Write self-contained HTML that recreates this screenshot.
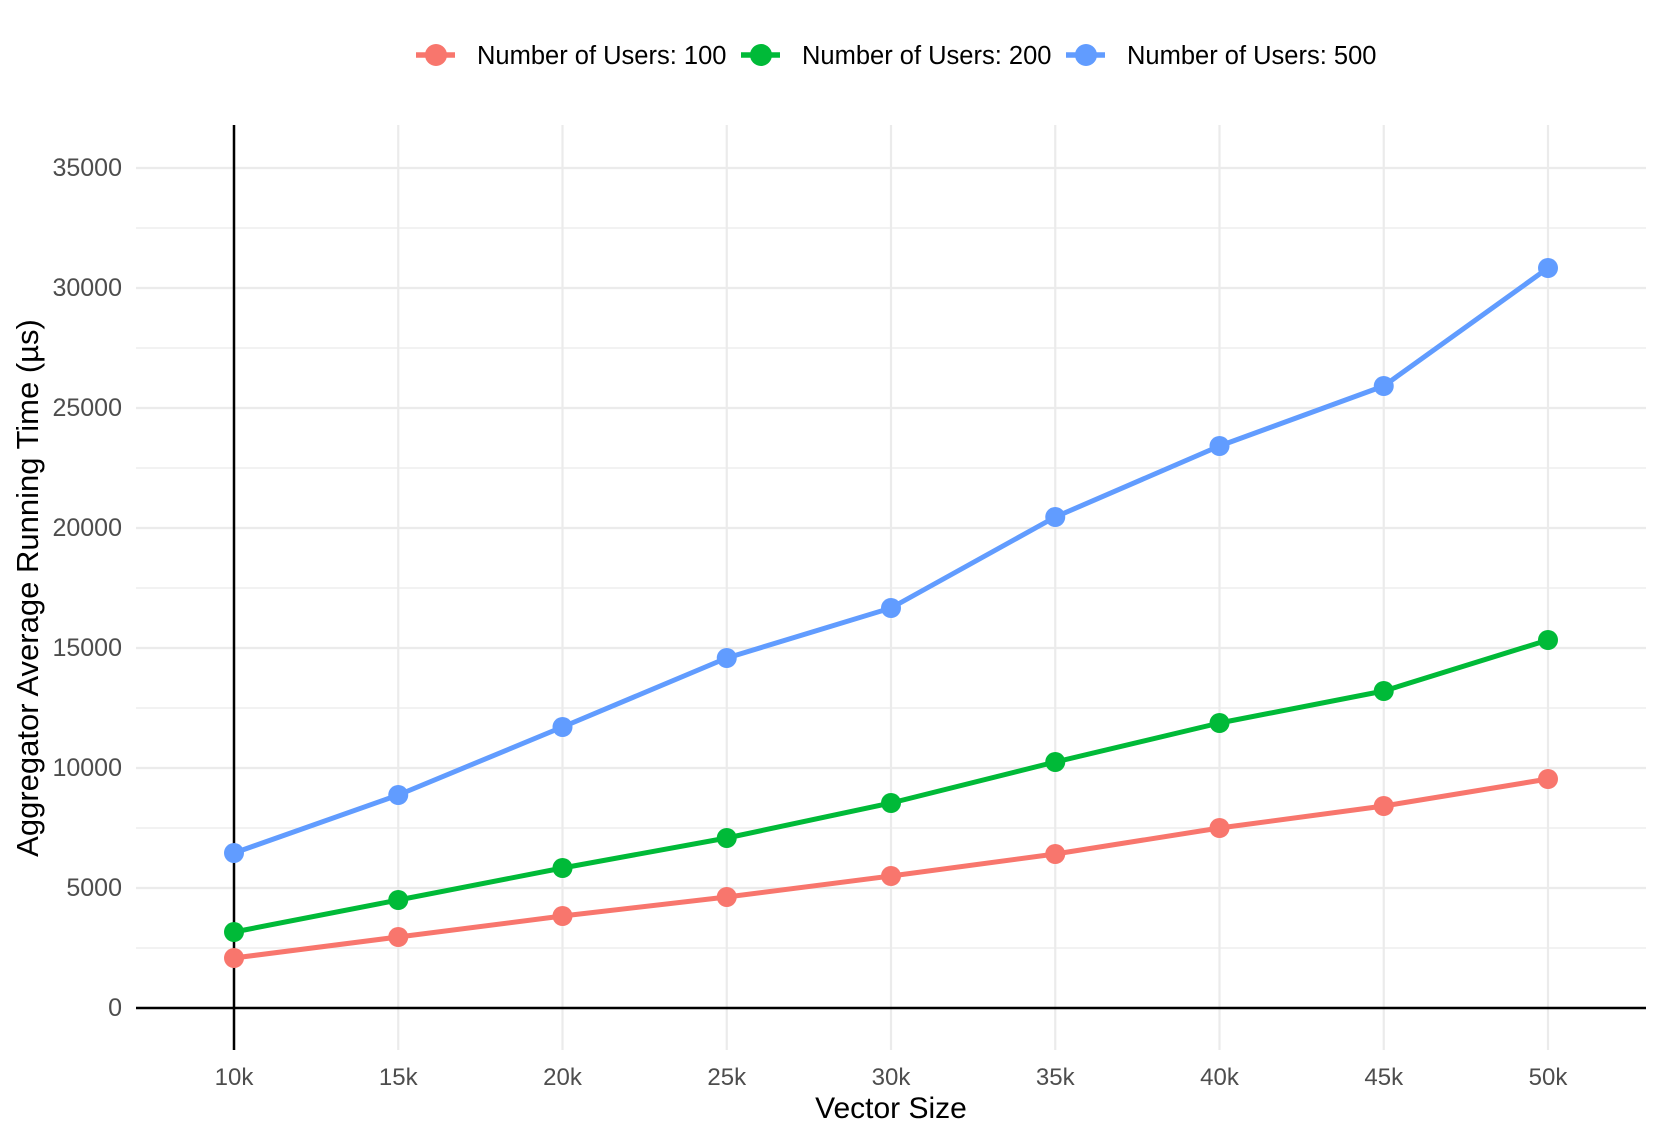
<!DOCTYPE html>
<html><head><meta charset="utf-8"><style>body{margin:0;background:#fff}svg{display:block}</style></head>
<body>
<svg width="1661" height="1140" xmlns="http://www.w3.org/2000/svg" font-family="Liberation Sans, sans-serif">
<g stroke="#ebebeb" stroke-width="1.2">
<line x1="136" y1="948" x2="1646" y2="948"/><line x1="136" y1="828" x2="1646" y2="828"/><line x1="136" y1="708" x2="1646" y2="708"/><line x1="136" y1="588" x2="1646" y2="588"/><line x1="136" y1="468" x2="1646" y2="468"/><line x1="136" y1="348" x2="1646" y2="348"/><line x1="136" y1="228" x2="1646" y2="228"/>
</g>
<g stroke="#ebebeb" stroke-width="2.2">
<line x1="136" y1="888" x2="1646" y2="888"/><line x1="136" y1="768" x2="1646" y2="768"/><line x1="136" y1="648" x2="1646" y2="648"/><line x1="136" y1="528" x2="1646" y2="528"/><line x1="136" y1="408" x2="1646" y2="408"/><line x1="136" y1="288" x2="1646" y2="288"/><line x1="136" y1="168" x2="1646" y2="168"/>
<line x1="234" y1="125" x2="234" y2="1050"/><line x1="398.25" y1="125" x2="398.25" y2="1050"/><line x1="562.5" y1="125" x2="562.5" y2="1050"/><line x1="726.75" y1="125" x2="726.75" y2="1050"/><line x1="891" y1="125" x2="891" y2="1050"/><line x1="1055.25" y1="125" x2="1055.25" y2="1050"/><line x1="1219.5" y1="125" x2="1219.5" y2="1050"/><line x1="1383.75" y1="125" x2="1383.75" y2="1050"/><line x1="1548" y1="125" x2="1548" y2="1050"/>
</g>
<line x1="136" y1="1008" x2="1646" y2="1008" stroke="#000" stroke-width="2.5"/>
<line x1="234" y1="125" x2="234" y2="1050" stroke="#000" stroke-width="2.5"/>
<g fill="#4d4d4d" font-size="25" text-anchor="end">
<text x="122" y="1016">0</text><text x="122" y="896">5000</text><text x="122" y="776">10000</text><text x="122" y="656">15000</text><text x="122" y="536">20000</text><text x="122" y="416">25000</text><text x="122" y="296">30000</text><text x="122" y="176">35000</text>
</g>
<g fill="#4d4d4d" font-size="24" text-anchor="middle">
<text x="234" y="1085">10k</text><text x="398.25" y="1085">15k</text><text x="562.5" y="1085">20k</text><text x="726.75" y="1085">25k</text><text x="891" y="1085">30k</text><text x="1055.25" y="1085">35k</text><text x="1219.5" y="1085">40k</text><text x="1383.75" y="1085">45k</text><text x="1548" y="1085">50k</text>
</g>
<text x="891" y="1118" font-size="30" text-anchor="middle">Vector Size</text>
<text transform="translate(38,588) rotate(-90)" font-size="31" text-anchor="middle">Aggregator Average Running Time (µs)</text>
<g fill="none" stroke-width="5" stroke-linejoin="round">
<polyline stroke="#f8766d" points="234,958 398.25,937 562.5,916 726.75,897 891,876 1055.25,854 1219.5,828 1383.75,806 1548,779"/>
<polyline stroke="#00ba38" points="234,932 398.25,900 562.5,868 726.75,838 891,803 1055.25,762 1219.5,723 1383.75,691 1548,640"/>
<polyline stroke="#619cff" points="234,853 398.25,795 562.5,727 726.75,658 891,608 1055.25,517 1219.5,446 1383.75,386 1548,268"/>
</g>
<g fill="#f8766d"><circle cx="234" cy="958" r="10"/><circle cx="398.25" cy="937" r="10"/><circle cx="562.5" cy="916" r="10"/><circle cx="726.75" cy="897" r="10"/><circle cx="891" cy="876" r="10"/><circle cx="1055.25" cy="854" r="10"/><circle cx="1219.5" cy="828" r="10"/><circle cx="1383.75" cy="806" r="10"/><circle cx="1548" cy="779" r="10"/></g>
<g fill="#00ba38"><circle cx="234" cy="932" r="10"/><circle cx="398.25" cy="900" r="10"/><circle cx="562.5" cy="868" r="10"/><circle cx="726.75" cy="838" r="10"/><circle cx="891" cy="803" r="10"/><circle cx="1055.25" cy="762" r="10"/><circle cx="1219.5" cy="723" r="10"/><circle cx="1383.75" cy="691" r="10"/><circle cx="1548" cy="640" r="10"/></g>
<g fill="#619cff"><circle cx="234" cy="853" r="10"/><circle cx="398.25" cy="795" r="10"/><circle cx="562.5" cy="727" r="10"/><circle cx="726.75" cy="658" r="10"/><circle cx="891" cy="608" r="10"/><circle cx="1055.25" cy="517" r="10"/><circle cx="1219.5" cy="446" r="10"/><circle cx="1383.75" cy="386" r="10"/><circle cx="1548" cy="268" r="10"/></g>
<g stroke-width="5.5">
<line x1="416" y1="55" x2="455" y2="55" stroke="#f8766d"/><circle cx="436" cy="55" r="11" fill="#f8766d"/>
<line x1="741" y1="55" x2="780" y2="55" stroke="#00ba38"/><circle cx="761" cy="55" r="11" fill="#00ba38"/>
<line x1="1066" y1="55" x2="1105" y2="55" stroke="#619cff"/><circle cx="1086" cy="55" r="11" fill="#619cff"/>
</g>
<g font-size="25.5">
<text x="477" y="64">Number of Users: 100</text><text x="802" y="64">Number of Users: 200</text><text x="1127" y="64">Number of Users: 500</text>
</g>
</svg>
</body></html>
